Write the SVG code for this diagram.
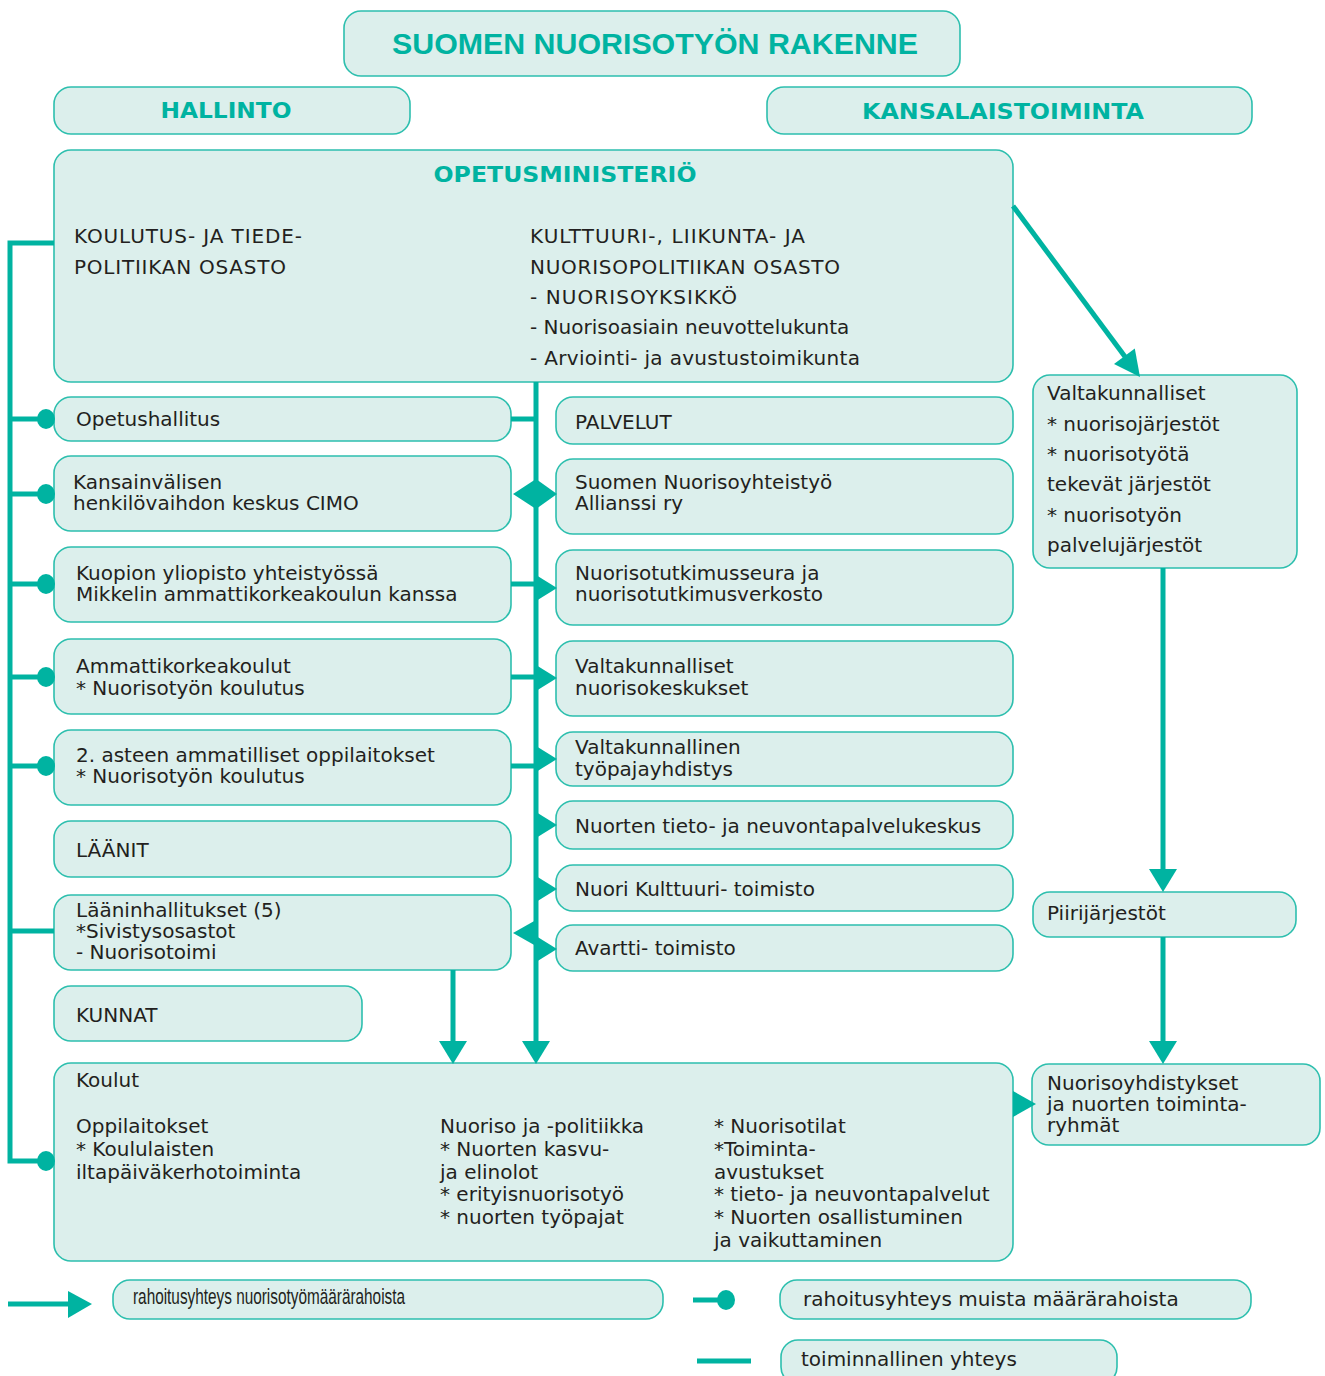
<svg xmlns="http://www.w3.org/2000/svg" width="1325" height="1376" viewBox="0 0 1325 1376">
<style>
.box{fill:#dcefec;stroke:#2dbfae;stroke-width:1.6}
.t{font-family:"DejaVu Sans",Verdana,sans-serif;font-size:20px;fill:#231f20}
.h{font-family:"DejaVu Sans",Verdana,sans-serif;font-size:22px;font-weight:bold;fill:#00b3a1}
.ln{stroke:#00b3a1;stroke-width:5;fill:none}
.ah{fill:#00b3a1}
</style>
<rect width="1325" height="1376" fill="#ffffff"/>

<g id="title">
  <rect class="box" x="344" y="11" width="616" height="65" rx="17"/>
  <text x="655" y="54" text-anchor="middle" font-family="'Liberation Sans',Arial,sans-serif" font-size="30" font-weight="bold" fill="#00b3a1" textLength="526" lengthAdjust="spacingAndGlyphs">SUOMEN NUORISOTYÖN RAKENNE</text>
</g>
<g id="hallinto">
  <rect class="box" x="54" y="87" width="356" height="47" rx="17"/>
  <text class="h" x="226" y="118" text-anchor="middle" textLength="131" lengthAdjust="spacingAndGlyphs">HALLINTO</text>
</g>
<g id="kansalaistoiminta">
  <rect class="box" x="767" y="87" width="485" height="47" rx="17"/>
  <text class="h" x="1003" y="119" text-anchor="middle" textLength="282" lengthAdjust="spacingAndGlyphs">KANSALAISTOIMINTA</text>
</g>
<g id="opetusministerio">
  <rect class="box" x="54" y="150" width="959" height="232" rx="17"/>
  <text class="h" x="565" y="182" text-anchor="middle" textLength="263" lengthAdjust="spacingAndGlyphs">OPETUSMINISTERIÖ</text>
  <text class="t" x="74" y="243" textLength="228">KOULUTUS- JA TIEDE-</text>
  <text class="t" x="74" y="274" textLength="212">POLITIIKAN OSASTO</text>
  <text class="t" x="530" y="243" textLength="275">KULTTUURI-, LIIKUNTA- JA</text>
  <text class="t" x="530" y="274" textLength="310">NUORISOPOLITIIKAN OSASTO</text>
  <text class="t" x="530" y="304" textLength="207">- NUORISOYKSIKKÖ</text>
  <text class="t" x="530" y="334">- Nuorisoasiain neuvottelukunta</text>
  <text class="t" x="530" y="365" textLength="330">- Arviointi- ja avustustoimikunta</text>
</g>

<g id="opetushallitus">
  <rect class="box" x="54" y="397" width="457" height="44" rx="17"/>
  <text class="t" x="76" y="426">Opetushallitus</text>
</g>
<g id="cimo">
  <rect class="box" x="54" y="456" width="457" height="75" rx="17"/>
  <text class="t" x="73" y="489">Kansainvälisen</text>
  <text class="t" x="73" y="510">henkilövaihdon keskus CIMO</text>
</g>
<g id="kuopio">
  <rect class="box" x="54" y="547" width="457" height="75" rx="17"/>
  <text class="t" x="76" y="580">Kuopion yliopisto yhteistyössä</text>
  <text class="t" x="76" y="601">Mikkelin ammattikorkeakoulun kanssa</text>
</g>
<g id="amk">
  <rect class="box" x="54" y="639" width="457" height="75" rx="17"/>
  <text class="t" x="76" y="673">Ammattikorkeakoulut</text>
  <text class="t" x="76" y="695">* Nuorisotyön koulutus</text>
</g>
<g id="toinen-aste">
  <rect class="box" x="54" y="730" width="457" height="75" rx="17"/>
  <text class="t" x="76" y="762">2. asteen ammatilliset oppilaitokset</text>
  <text class="t" x="76" y="783">* Nuorisotyön koulutus</text>
</g>
<g id="laanit">
  <rect class="box" x="54" y="821" width="457" height="56" rx="17"/>
  <text class="t" x="76" y="857">LÄÄNIT</text>
</g>
<g id="laaninhallitukset">
  <rect class="box" x="54" y="895" width="457" height="75" rx="17"/>
  <text class="t" x="76" y="917">Lääninhallitukset (5)</text>
  <text class="t" x="76" y="938">*Sivistysosastot</text>
  <text class="t" x="76" y="959">- Nuorisotoimi</text>
</g>
<g id="kunnat">
  <rect class="box" x="54" y="986" width="308" height="55" rx="17"/>
  <text class="t" x="76" y="1022">KUNNAT</text>
</g>

<g id="palvelut">
  <rect class="box" x="556" y="397" width="457" height="47" rx="17"/>
  <text class="t" x="575" y="429">PALVELUT</text>
</g>
<g id="allianssi">
  <rect class="box" x="556" y="459" width="457" height="75" rx="17"/>
  <text class="t" x="575" y="489">Suomen Nuorisoyhteistyö</text>
  <text class="t" x="575" y="510">Allianssi ry</text>
</g>
<g id="nuorisotutkimus">
  <rect class="box" x="556" y="550" width="457" height="75" rx="17"/>
  <text class="t" x="575" y="580">Nuorisotutkimusseura ja</text>
  <text class="t" x="575" y="601">nuorisotutkimusverkosto</text>
</g>
<g id="nuorisokeskukset">
  <rect class="box" x="556" y="641" width="457" height="75" rx="17"/>
  <text class="t" x="575" y="673">Valtakunnalliset</text>
  <text class="t" x="575" y="695">nuorisokeskukset</text>
</g>
<g id="tyopajayhdistys">
  <rect class="box" x="556" y="732" width="457" height="54" rx="17"/>
  <text class="t" x="575" y="754">Valtakunnallinen</text>
  <text class="t" x="575" y="776">työpajayhdistys</text>
</g>
<g id="tieto-neuvonta">
  <rect class="box" x="556" y="801" width="457" height="48" rx="17"/>
  <text class="t" x="575" y="833">Nuorten tieto- ja neuvontapalvelukeskus</text>
</g>
<g id="nuori-kulttuuri">
  <rect class="box" x="556" y="865" width="457" height="46" rx="17"/>
  <text class="t" x="575" y="896">Nuori Kulttuuri- toimisto</text>
</g>
<g id="avartti">
  <rect class="box" x="556" y="925" width="457" height="46" rx="17"/>
  <text class="t" x="575" y="955">Avartti- toimisto</text>
</g>

<g id="koulut">
  <rect class="box" x="54" y="1063" width="959" height="198" rx="17"/>
  <text class="t" x="76" y="1087">Koulut</text>
  <text class="t" x="76" y="1133">Oppilaitokset</text>
  <text class="t" x="76" y="1156">* Koululaisten</text>
  <text class="t" x="76" y="1179">iltapäiväkerhotoiminta</text>
  <text class="t" x="440" y="1133">Nuoriso ja -politiikka</text>
  <text class="t" x="440" y="1156">* Nuorten kasvu-</text>
  <text class="t" x="440" y="1179">ja elinolot</text>
  <text class="t" x="440" y="1201">* erityisnuorisotyö</text>
  <text class="t" x="440" y="1224">* nuorten työpajat</text>
  <text class="t" x="714" y="1133">* Nuorisotilat</text>
  <text class="t" x="714" y="1156">*Toiminta-</text>
  <text class="t" x="714" y="1179">avustukset</text>
  <text class="t" x="714" y="1201">* tieto- ja neuvontapalvelut</text>
  <text class="t" x="714" y="1224">* Nuorten osallistuminen</text>
  <text class="t" x="714" y="1247">ja vaikuttaminen</text>
</g>

<g id="valtakunnalliset">
  <rect class="box" x="1033" y="375" width="264" height="193" rx="17"/>
  <text class="t" x="1047" y="400">Valtakunnalliset</text>
  <text class="t" x="1047" y="431">* nuorisojärjestöt</text>
  <text class="t" x="1047" y="461">* nuorisotyötä</text>
  <text class="t" x="1047" y="491">tekevät järjestöt</text>
  <text class="t" x="1047" y="522">* nuorisotyön</text>
  <text class="t" x="1047" y="552">palvelujärjestöt</text>
</g>
<g id="piirijarjestot">
  <rect class="box" x="1033" y="892" width="263" height="45" rx="17"/>
  <text class="t" x="1047" y="920">Piirijärjestöt</text>
</g>
<g id="nuorisoyhdistykset">
  <rect class="box" x="1032" y="1064" width="288" height="81" rx="17"/>
  <text class="t" x="1047" y="1090">Nuorisoyhdistykset</text>
  <text class="t" x="1047" y="1111">ja nuorten toiminta-</text>
  <text class="t" x="1047" y="1132">ryhmät</text>
</g>

<g id="legend">
  <rect class="box" x="113" y="1280" width="550" height="39" rx="17"/>
  <text x="133" y="1304" font-family="'Liberation Sans Narrow','Liberation Sans',Arial,sans-serif" font-size="22" fill="#231f20" textLength="272" lengthAdjust="spacingAndGlyphs">rahoitusyhteys nuorisotyömäärärahoista</text>
  <rect class="box" x="780" y="1280" width="471" height="39" rx="17"/>
  <text class="t" x="803" y="1306">rahoitusyhteys muista määrärahoista</text>
  <rect class="box" x="781" y="1340" width="336" height="44" rx="17"/>
  <text class="t" x="801" y="1366">toiminnallinen yhteys</text>
</g>

<g id="connectors">
  <!-- left trunk -->
  <polyline class="ln" points="54,243 10,243 10,1161 45,1161"/>
  <line class="ln" x1="10" y1="419" x2="45" y2="419"/>
  <line class="ln" x1="10" y1="494" x2="45" y2="494"/>
  <line class="ln" x1="10" y1="584" x2="45" y2="584"/>
  <line class="ln" x1="10" y1="677" x2="45" y2="677"/>
  <line class="ln" x1="10" y1="766" x2="45" y2="766"/>
  <line class="ln" x1="10" y1="931" x2="54" y2="931"/>
  <ellipse class="ah" cx="46" cy="419" rx="9" ry="10"/>
  <ellipse class="ah" cx="46" cy="494" rx="9" ry="10"/>
  <ellipse class="ah" cx="46" cy="584" rx="9" ry="10"/>
  <ellipse class="ah" cx="46" cy="677" rx="9" ry="10"/>
  <ellipse class="ah" cx="46" cy="766" rx="9" ry="10"/>
  <ellipse class="ah" cx="46" cy="1161" rx="9" ry="10"/>

  <!-- middle trunk -->
  <line class="ln" x1="536" y1="382" x2="536" y2="1045"/>
  <polygon class="ah" points="522,1041 550,1041 536,1064"/>
  <line class="ln" x1="511" y1="419" x2="536" y2="419"/>
  <polygon class="ah" points="513,494 536,479 557,494 536,509"/>
  <line class="ln" x1="511" y1="584" x2="536" y2="584"/>
  <polygon class="ah" points="536,575 557,588 536,601"/>
  <line class="ln" x1="511" y1="677" x2="536" y2="677"/>
  <polygon class="ah" points="536,665 557,678 536,691"/>
  <line class="ln" x1="511" y1="766" x2="536" y2="766"/>
  <polygon class="ah" points="536,746 557,759 536,772"/>
  <polygon class="ah" points="536,812 557,825 536,838"/>
  <polygon class="ah" points="536,876 557,889 536,902"/>
  <polygon class="ah" points="536,920 513,933 536,946"/>
  <polygon class="ah" points="536,936 557,949 536,962"/>

  <!-- Lääninhallitukset down to Koulut -->
  <line class="ln" x1="453" y1="970" x2="453" y2="1045"/>
  <polygon class="ah" points="439,1041 467,1041 453,1064"/>

  <!-- Opetusministeriö to Valtakunnalliset -->
  <line class="ln" x1="1013" y1="206" x2="1126" y2="358"/>
  <polygon class="ah" points="1140,377 1114,364 1134.8,348.4"/>

  <!-- right column -->
  <line class="ln" x1="1163" y1="568" x2="1163" y2="872"/>
  <polygon class="ah" points="1149,869 1177,869 1163,892"/>
  <line class="ln" x1="1163" y1="937" x2="1163" y2="1044"/>
  <polygon class="ah" points="1149,1041 1177,1041 1163,1064"/>
  <polygon class="ah" points="1013,1091 1036,1104 1013,1117"/>

  <!-- legend symbols -->
  <line class="ln" x1="8" y1="1304" x2="72" y2="1304"/>
  <polygon class="ah" points="68,1291 92,1304 68,1318"/>
  <line class="ln" x1="693" y1="1300" x2="725" y2="1300"/>
  <ellipse class="ah" cx="726" cy="1300" rx="9" ry="10"/>
  <line class="ln" x1="697" y1="1361" x2="751" y2="1361"/>
</g>
</svg>
